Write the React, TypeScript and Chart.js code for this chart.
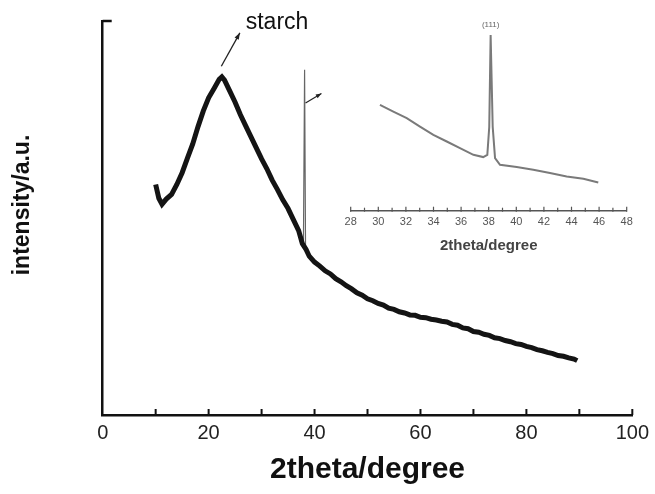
import React, { useEffect, useRef } from "react";
import { Chart, registerables } from "chart.js";
Chart.register(...registerables);

const FONT = "'Liberation Sans', Arial, Helvetica, sans-serif";

// main pattern (2theta in degrees, intensity in a.u. 0-100)
const mainX = [10, 10.6, 11.2, 12, 13, 14, 15, 16, 17, 18, 19, 20, 21, 22, 22.5, 23, 24, 25, 26, 27, 28, 29, 30, 31, 32, 33, 34, 35, 36, 37, 37.7, 38.4, 39, 40, 41, 42, 43, 44, 45, 46, 47, 48, 49, 50, 51, 52, 53, 54, 55, 56, 57, 58, 59, 60, 61, 62, 63, 64, 65, 66, 67, 68, 69, 70, 71, 72, 73, 74, 75, 76, 77, 78, 79, 80, 81, 82, 83, 84, 85, 86, 87, 88, 89, 89.6];
const mainY = [58.5, 55.0, 53.5, 54.8, 56.0, 58.5, 61.5, 65.2, 68.8, 73.2, 77.2, 80.5, 82.8, 85.2, 85.8, 85.0, 82.2, 79.4, 76.2, 73.4, 70.6, 67.8, 65.0, 62.5, 59.6, 57.2, 54.6, 52.4, 49.6, 46.8, 43.5, 42.0, 40.3, 38.8, 37.8, 36.6, 35.8, 34.6, 33.8, 32.8, 32.0, 31.0, 30.4, 29.5, 29.0, 28.3, 27.9, 27.1, 26.8, 26.2, 25.9, 25.4, 25.3, 24.8, 24.7, 24.3, 24.1, 23.8, 23.6, 23.0, 22.8, 22.1, 21.9, 21.2, 21.0, 20.5, 20.2, 19.6, 19.4, 18.9, 18.6, 18.1, 17.9, 17.4, 17.1, 16.6, 16.3, 15.9, 15.6, 15.1, 14.9, 14.5, 14.2, 13.8];
// silver (111) reflection in the main pattern
const spikeX = [37.9, 38.12, 38.3];
const spikeY = [43.0, 87.6, 42.0];

// inset pattern
const insetX = [30.12, 31.09, 32.06, 33.02, 33.99, 34.96, 35.92, 36.89, 37.6, 37.9, 38.04, 38.14, 38.29, 38.46, 38.82, 40.03, 41.23, 42.44, 43.65, 44.86, 45.94];
const insetY = [106, 99.3, 92.7, 84.3, 76, 69.3, 62.7, 56, 53.7, 56, 84, 176, 84, 52.7, 46, 43.7, 41, 37.7, 34.3, 32, 28.3];

const mainTickLabels = [0, 20, 40, 60, 80, 100];
const insetTickLabels = [28, 30, 32, 34, 36, 38, 40, 42, 44, 46, 48];

function arrow(ctx: CanvasRenderingContext2D, x1: number, y1: number, x2: number, y2: number, head: number, color: string, lw: number) {
  ctx.save();
  ctx.strokeStyle = color;
  ctx.fillStyle = color;
  ctx.lineWidth = lw;
  ctx.beginPath();
  ctx.moveTo(x1, y1);
  ctx.lineTo(x2, y2);
  ctx.stroke();
  const a = Math.atan2(y2 - y1, x2 - x1);
  ctx.beginPath();
  ctx.moveTo(x2, y2);
  ctx.lineTo(x2 - head * Math.cos(a - 0.35), y2 - head * Math.sin(a - 0.35));
  ctx.lineTo(x2 - head * Math.cos(a + 0.35), y2 - head * Math.sin(a + 0.35));
  ctx.closePath();
  ctx.fill();
  ctx.restore();
}

const mainDecor = {
  id: "mainDecor",
  afterDraw(chart: any) {
    const { ctx, chartArea, scales } = chart;
    const x = scales.x;
    const y = scales.y;
    ctx.save();
    ctx.strokeStyle = "#111";
    ctx.lineWidth = 2;
    // inward x ticks
    x.ticks.forEach((t: any) => {
      if (t.value === 0) return;
      const px = x.getPixelForValue(t.value);
      ctx.beginPath();
      ctx.moveTo(px, chartArea.bottom);
      ctx.lineTo(px, chartArea.bottom - 6);
      ctx.stroke();
    });
    // top cap of y axis
    ctx.lineWidth = 2.5;
    ctx.beginPath();
    ctx.moveTo(chartArea.left, y.getPixelForValue(100));
    ctx.lineTo(chartArea.left + 9, y.getPixelForValue(100));
    ctx.stroke();

    // axis titles
    ctx.fillStyle = "#111";
    ctx.font = `bold 30px ${FONT}`;
    ctx.textAlign = "center";
    ctx.textBaseline = "middle";
    ctx.fillText("2theta/degree", (chartArea.left + chartArea.right) / 2, 470);
    ctx.save();
    ctx.translate(23, 205);
    ctx.rotate(-Math.PI / 2);
    ctx.font = `bold 23px ${FONT}`;
    ctx.fillText("intensity/a.u.", 0, 0);
    ctx.restore();

    // starch annotation
    arrow(ctx, x.getPixelForValue(22.4), y.getPixelForValue(88.5), x.getPixelForValue(25.9), y.getPixelForValue(97), 7, "#222", 1.3);
    ctx.font = `23px ${FONT}`;
    ctx.textAlign = "left";
    ctx.fillStyle = "#111";
    ctx.fillText("starch", x.getPixelForValue(27.0), y.getPixelForValue(99.5));
    // small arrow to inset
    arrow(ctx, x.getPixelForValue(38.3), y.getPixelForValue(79.2), x.getPixelForValue(41.3), y.getPixelForValue(81.6), 6, "#222", 1.2);
    ctx.restore();
  },
};

const insetDecor = {
  id: "insetDecor",
  afterDraw(chart: any) {
    const { ctx, chartArea, scales } = chart;
    const x = scales.x;
    const y = scales.y;
    ctx.save();
    ctx.strokeStyle = "#555";
    ctx.lineWidth = 1.2;
    for (let v = 28; v <= 48; v++) {
      const px = x.getPixelForValue(v);
      const up = v % 2 === 0 ? 4 : 3;
      ctx.beginPath();
      ctx.moveTo(px, chartArea.bottom + 1);
      ctx.lineTo(px, chartArea.bottom - up);
      ctx.stroke();
    }
    ctx.fillStyle = "#444";
    ctx.textAlign = "center";
    ctx.textBaseline = "middle";
    ctx.font = `bold 15px ${FONT}`;
    ctx.fillText("2theta/degree", x.getPixelForValue(38), chartArea.bottom + 35);
    ctx.font = `8px ${FONT}`;
    ctx.fillStyle = "#666";
    ctx.fillText("(111)", x.getPixelForValue(38.14), y.getPixelForValue(186));
    ctx.restore();
  },
};

export default function App() {
  const mainRef = useRef<HTMLCanvasElement>(null);
  const insetRef = useRef<HTMLCanvasElement>(null);

  useEffect(() => {
    const main = new Chart(mainRef.current as HTMLCanvasElement, {
      type: "line",
      data: {
        datasets: [
          {
            data: mainX.map((v, i) => ({ x: v, y: mainY[i] })),
            borderColor: "#141414",
            borderWidth: 5,
            pointRadius: 0,
            tension: 0,
          },
          {
            data: spikeX.map((v, i) => ({ x: v, y: spikeY[i] })),
            borderColor: "#666",
            borderWidth: 1.2,
            pointRadius: 0,
            tension: 0,
          },
        ],
      },
      options: {
        animation: false,
        responsive: false,
        devicePixelRatio: 1,
        layout: { padding: { top: 21, right: 21.3, left: 0, bottom: 0 } },
        plugins: { legend: { display: false }, tooltip: { enabled: false } },
        scales: {
          x: {
            type: "linear",
            min: 0,
            max: 100,
            grid: { display: false, drawTicks: false },
            border: { display: true, color: "#111", width: 2.5 },
            ticks: {
              stepSize: 10,
              autoSkip: false,
              maxRotation: 0,
              padding: 6,
              color: "#222",
              font: { size: 20, family: FONT },
              callback: (v: any) => (mainTickLabels.includes(Number(v)) ? String(v) : ""),
            },
            afterFit: (s: any) => {
              s.height = 79;
            },
          },
          y: {
            type: "linear",
            min: 0,
            max: 100,
            grid: { display: false, drawTicks: false },
            border: { display: true, color: "#111", width: 2.5 },
            ticks: { display: false },
            afterFit: (s: any) => {
              s.width = 102.7;
            },
          },
        },
      },
      plugins: [mainDecor],
    } as any);

    const inset = new Chart(insetRef.current as HTMLCanvasElement, {
      type: "line",
      data: {
        datasets: [
          {
            data: insetX.map((v, i) => ({ x: v, y: insetY[i] })),
            borderColor: "#7a7a7a",
            borderWidth: 2,
            pointRadius: 0,
            tension: 0,
          },
        ],
      },
      options: {
        animation: false,
        responsive: false,
        devicePixelRatio: 1,
        layout: { padding: { top: 10, right: 23.3, left: 20.7, bottom: 0 } },
        plugins: { legend: { display: false }, tooltip: { enabled: false } },
        scales: {
          x: {
            type: "linear",
            min: 28,
            max: 48,
            grid: { display: false, drawTicks: false },
            border: { display: true, color: "#555", width: 1.5 },
            ticks: {
              stepSize: 2,
              autoSkip: false,
              maxRotation: 0,
              padding: 5,
              color: "#555",
              font: { size: 11, family: FONT },
              callback: (v: any) => (insetTickLabels.includes(Number(v)) ? String(v) : ""),
            },
            afterFit: (s: any) => {
              s.height = 54.3;
            },
          },
          y: { display: false, min: 0, max: 181 },
        },
      },
      plugins: [insetDecor],
    } as any);

    return () => {
      main.destroy();
      inset.destroy();
    };
  }, []);

  return (
    <div style={{ position: "fixed", left: 0, top: 0, width: 655, height: 494, background: "#fff" }}>
      <canvas ref={mainRef} width={655} height={494} style={{ position: "absolute", left: 0, top: 0, width: 655, height: 494 }} />
      <canvas ref={insetRef} width={320} height={245} style={{ position: "absolute", left: 330, top: 20, width: 320, height: 245 }} />
    </div>
  );
}
